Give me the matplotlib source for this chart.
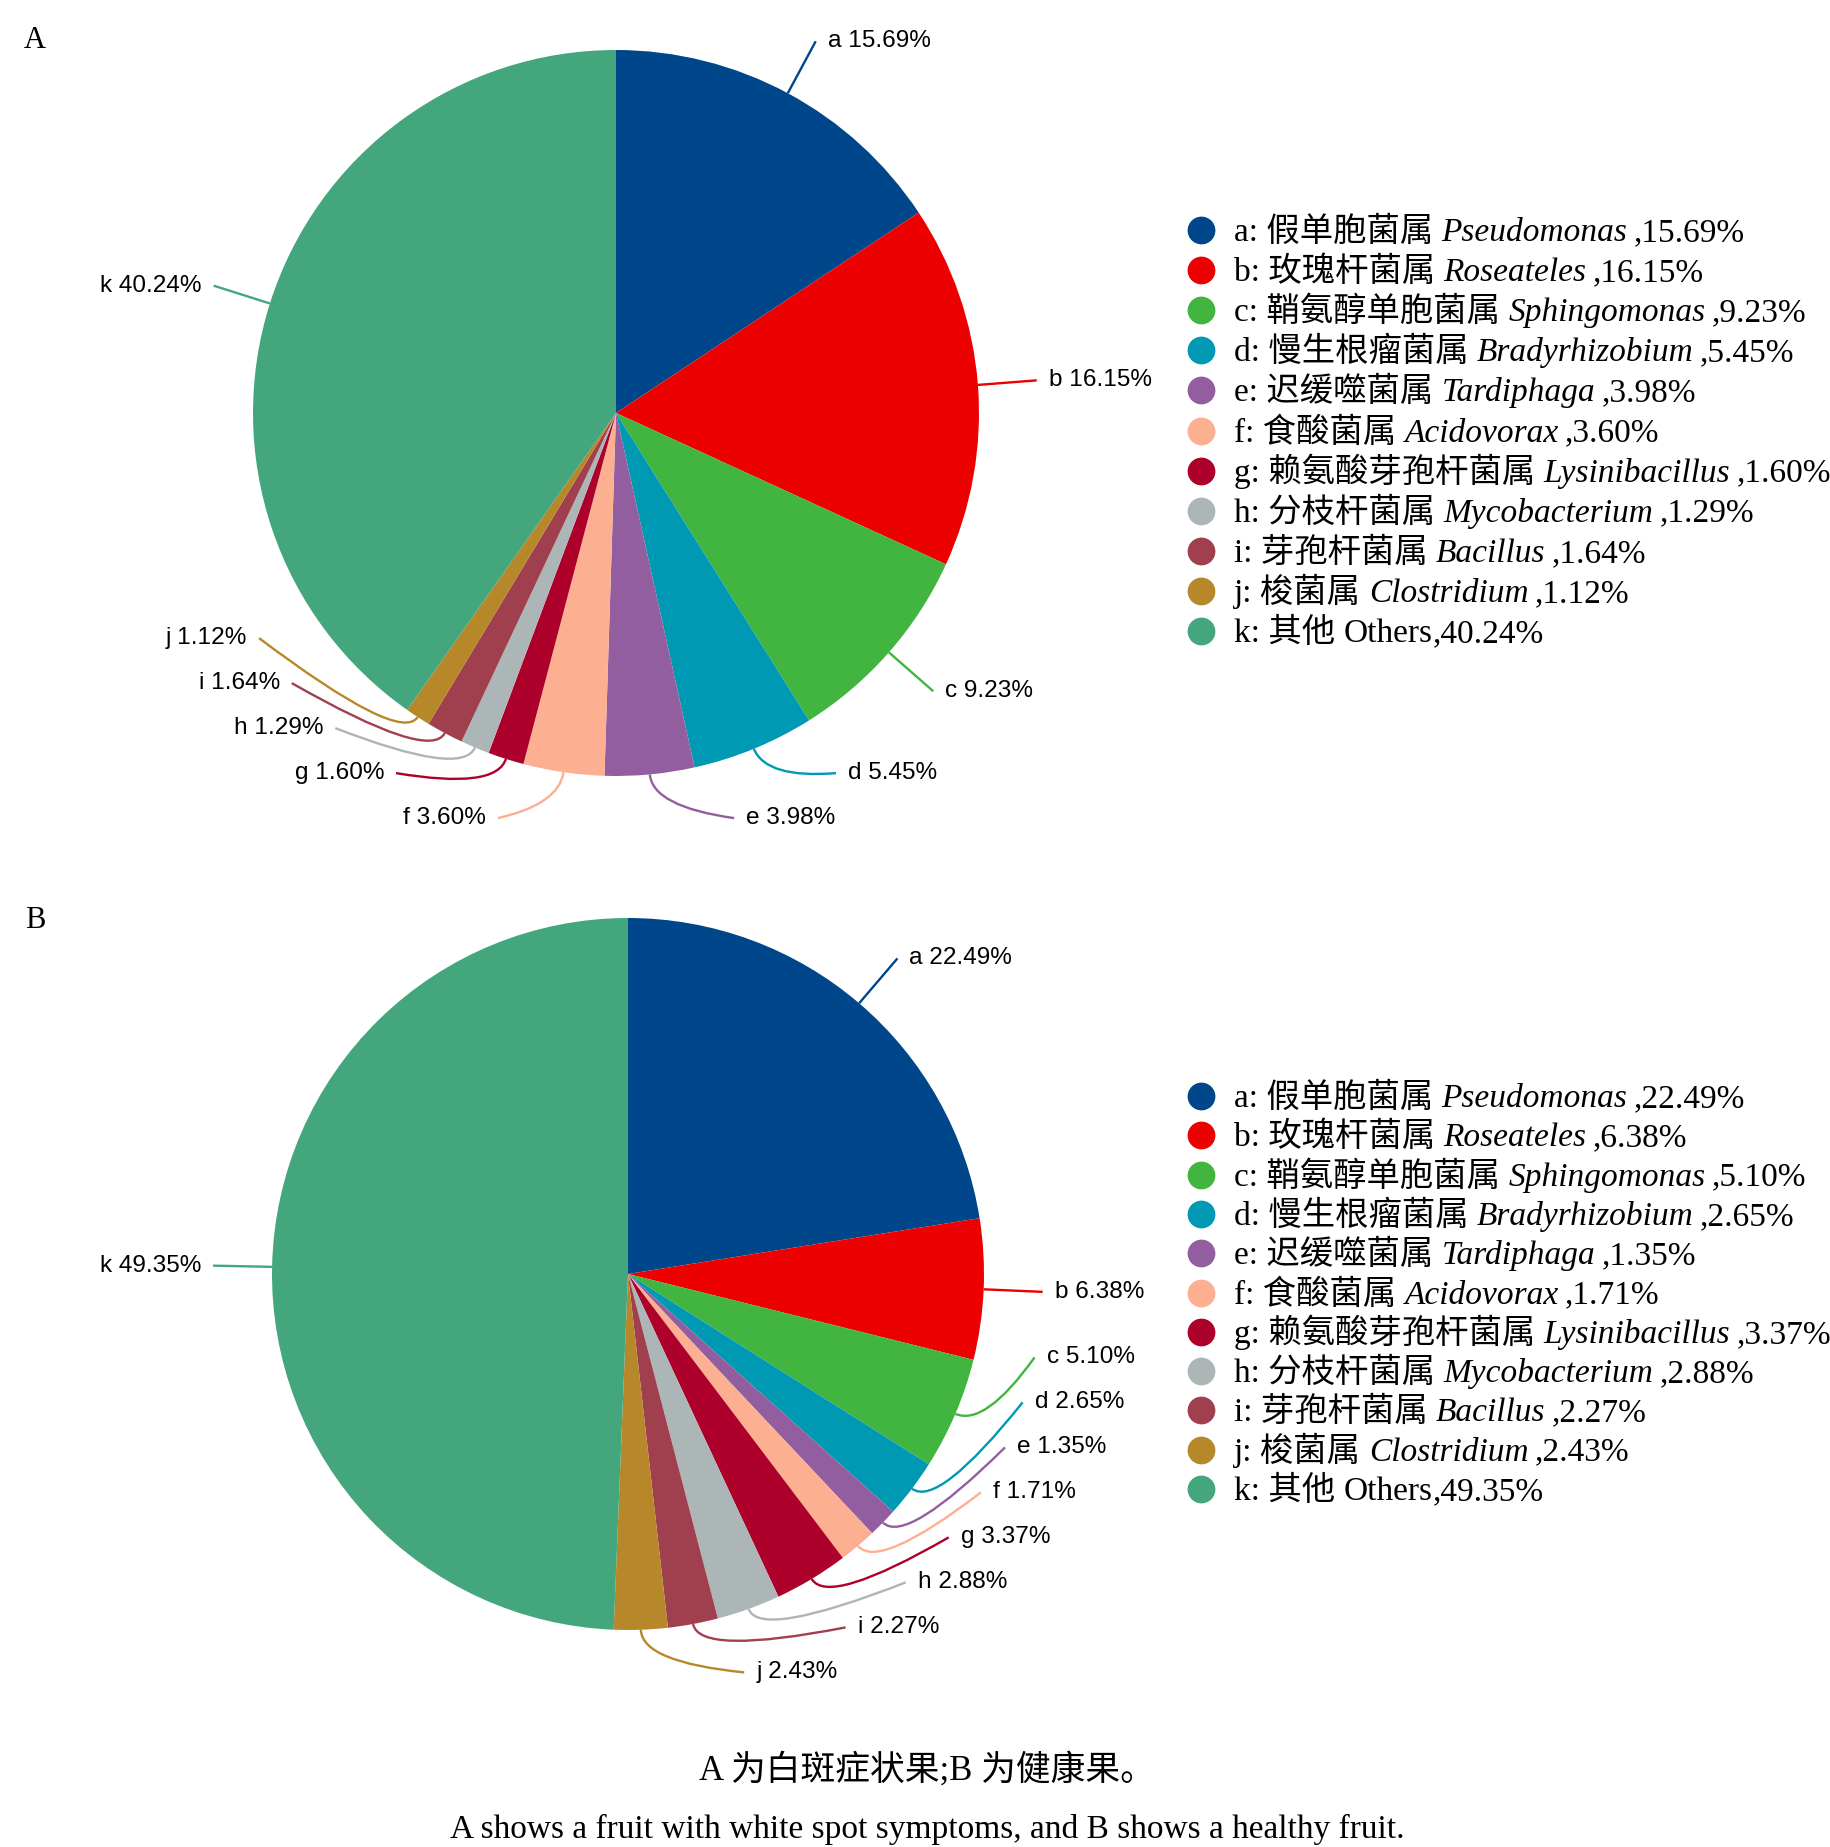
"""Two genus-composition pies (A: white-spot fruit, B: healthy fruit) with legends."""
import numpy as np
import matplotlib

matplotlib.use("Agg")
import matplotlib.pyplot as plt
from matplotlib.path import Path as MPath
from matplotlib.patches import PathPatch

W, H = 1831, 1847

# ---- data ---------------------------------------------------------------
keys = list("abcdefghijk")
cn_names = ["假单胞菌属", "玫瑰杆菌属", "鞘氨醇单胞菌属", "慢生根瘤菌属", "迟缓噬菌属",
            "食酸菌属", "赖氨酸芽孢杆菌属", "分枝杆菌属", "芽孢杆菌属", "梭菌属", "其他"]
genus = ["Pseudomonas", "Roseateles", "Sphingomonas", "Bradyrhizobium", "Tardiphaga",
         "Acidovorax", "Lysinibacillus", "Mycobacterium", "Bacillus", "Clostridium", "Others"]
share_a = [15.69, 16.15, 9.23, 5.45, 3.98, 3.60, 1.60, 1.29, 1.64, 1.12, 40.24]
share_b = [22.49, 6.38, 5.10, 2.65, 1.35, 1.71, 3.37, 2.88, 2.27, 2.43, 49.35]

colors = ["#00468B", "#ED0000", "#42B540", "#0099B4", "#925E9F", "#FDAF91",
          "#AD002A", "#ADB6B6", "#A0404F", "#B7882A", "#43A67D"]

caption_cn = "A 为白斑症状果;B 为健康果。"
caption_en = "A shows a fruit with white spot symptoms, and B shows a healthy fruit."

# ---- layout (pixels, image coords: y down) -------------------------------
PANELS = [
    dict(tag="A", values=share_a, center=(616, 413), radius=363, legend_y=230, legend_dy=40.1, tag_y=41),
    dict(tag="B", values=share_b, center=(628, 1274), radius=356, legend_y=1096, legend_dy=39.3, tag_y=920),
]
L1 = 59          # radial length of the leader line
SPACING = 45     # minimal vertical distance between labels
GAP = 12         # line end -> text
LEG_DOT_X = 1201
LEG_TXT_X = 1234
LEG_FS = 24

SERIF_CJK = ["Liberation Serif", "Noto Sans CJK SC"]
SANS = ["Liberation Sans", "DejaVu Sans"]

fig = plt.figure(figsize=(W / 100, H / 100), dpi=100)
ax = fig.add_axes([0, 0, 1, 1])


def Y(y):
    return H - y


def draw_labels(wedges, values, cx, cy, r):
    R = r + L1
    items = []
    for k, w in enumerate(wedges):
        th = np.deg2rad((w.theta1 + w.theta2) / 2)
        u = np.array([np.cos(th), np.sin(th)])
        items.append(dict(k=k, u=u, p0=np.array([cx, cy]) + r * u,
                          y=cy + R * u[1], side=1 if u[0] >= 0 else -1))
    # push labels upward on each side so they do not overlap
    for side in (1, -1):
        grp = sorted([it for it in items if it["side"] == side], key=lambda it: it["y"])
        prev = None
        for it in grp:
            y = max(it["y"], cy - 0.96 * R)
            if prev is not None:
                y = max(y, prev + SPACING)
            it["y"] = y
            prev = y
    for it in items:
        k, side, u, p0 = it["k"], it["side"], it["u"], it["p0"]
        dy = it["y"] - cy
        x = cx + side * np.sqrt(max(R * R - dy * dy, 0.0))
        p1 = np.array([x, it["y"]])
        c = p0 + u * L1 * 0.55
        path = MPath([p0, c, p1], [MPath.MOVETO, MPath.CURVE3, MPath.CURVE3])
        ax.add_patch(PathPatch(path, fill=False, edgecolor=colors[k], lw=1.7, zorder=4))
        ax.text(x + side * GAP, it["y"], f"{keys[k]} {values[k]:.2f}%",
                ha="left" if side > 0 else "right", va="center",
                fontsize=17.6, family=SANS, color="black", zorder=5)


def draw_legend(values, y0, dy, renderer):
    inv = ax.transData.inverted()
    for k in range(len(keys)):
        yc = Y(y0 + k * dy)
        ax.plot([LEG_DOT_X], [yc], "o", ms=20, color=colors[k], mec="none", zorder=5)
        base = yc - 11
        x = LEG_TXT_X
        t = ax.text(x, base, f"{keys[k]}: {cn_names[k]} ", fontsize=LEG_FS,
                    family=SERIF_CJK, va="baseline", ha="left")
        x = inv.transform((t.get_window_extent(renderer).x1, 0))[0]
        t = ax.text(x, base, genus[k], fontsize=LEG_FS, family="Liberation Serif",
                    style="normal" if k == len(keys) - 1 else "italic",
                    va="baseline", ha="left")
        x = inv.transform((t.get_window_extent(renderer).x1, 0))[0] + (0 if k == len(keys) - 1 else 6)
        ax.text(x, base, f",{values[k]:.2f}%", fontsize=LEG_FS, family="Liberation Serif",
                va="baseline", ha="left")


renderer = fig.canvas.get_renderer()
for p in PANELS:
    cx, cy = p["center"][0], Y(p["center"][1])
    wedges, _ = ax.pie(p["values"], colors=colors, startangle=90, counterclock=False,
                       center=(cx, cy), radius=p["radius"], wedgeprops=dict(linewidth=0))
    draw_labels(wedges, p["values"], cx, cy, p["radius"])
    ax.text(35, Y(p["tag_y"]), p["tag"], fontsize=22, family="Liberation Serif",
            ha="center", va="center")

ax.set_xlim(0, W)
ax.set_ylim(0, H)
ax.set_aspect("auto")
ax.axis("off")

for p in PANELS:
    draw_legend(p["values"], p["legend_y"], p["legend_dy"], renderer)

ax.text(927, Y(1770), caption_cn, fontsize=25, family=SERIF_CJK, ha="center", va="center")
ax.text(927, Y(1829), caption_en, fontsize=24, family="Liberation Serif", ha="center", va="center")

fig.savefig("out.png", dpi=100, facecolor="white")
plt.close(fig)
